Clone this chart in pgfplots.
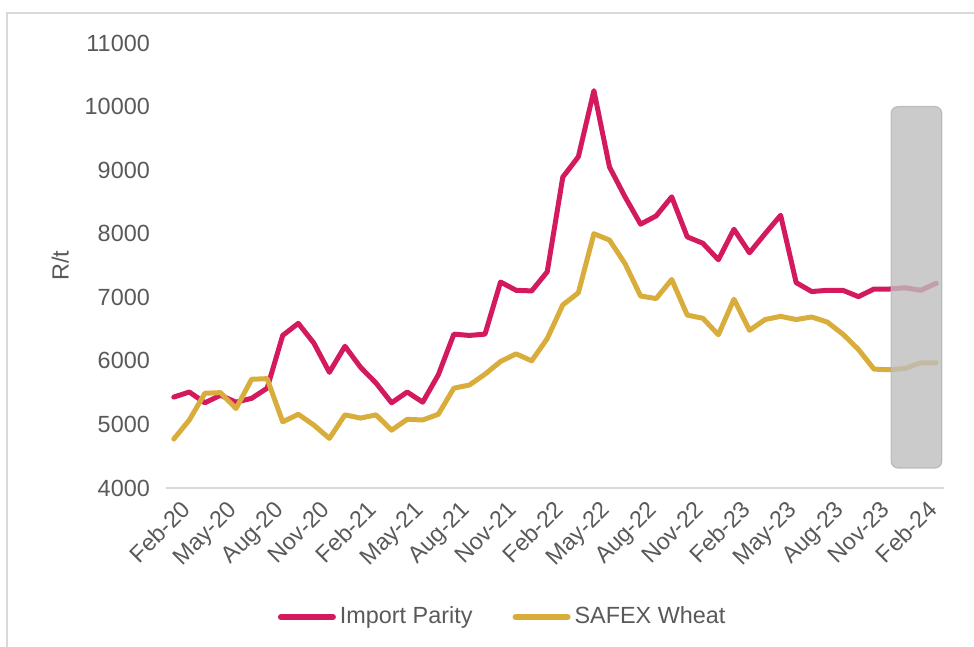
\documentclass[border=0pt]{standalone}
\usepackage{pgfplots}
\pgfplotsset{compat=1.18}
\usepackage{pgfplotstable}
\usepackage{fontspec}
\setmainfont{Liberation Sans}
\definecolor{parity}{HTML}{D31A5E}
\definecolor{safex}{HTML}{D9AD3B}
\definecolor{txt}{HTML}{595959}
\definecolor{axisgray}{HTML}{D9D9D9}

\pgfplotstableread{
idx import
0 5430
1 5510
2 5340
3 5460
4 5350
5 5410
6 5570
7 6400
8 6590
9 6280
10 5820
11 6230
12 5900
13 5650
14 5340
15 5510
16 5350
17 5780
18 6420
19 6400
20 6420
21 7240
22 7110
23 7100
24 7400
25 8890
26 9210
27 10250
28 9050
29 8580
30 8150
31 8280
32 8580
33 7950
34 7850
35 7590
36 8070
37 7700
38 8000
39 8290
40 7230
41 7090
42 7110
43 7110
44 7010
45 7130
46 7130
47 7150
48 7110
49 7220
}\importdata

\pgfplotstableread{
idx safex
0 4770
1 5070
2 5490
3 5500
4 5250
5 5710
6 5720
7 5040
8 5160
9 4990
10 4780
11 5150
12 5100
13 5150
14 4910
15 5080
16 5070
17 5160
18 5570
19 5620
20 5790
21 5990
22 6110
23 6000
24 6350
25 6880
26 7070
27 8000
28 7900
29 7530
30 7020
31 6980
32 7280
33 6720
34 6670
35 6410
36 6970
37 6480
38 6650
39 6700
40 6650
41 6690
42 6610
43 6420
44 6180
45 5870
46 5860
47 5880
48 5970
49 5970
}\safexdata

\begin{document}
\fontsize{11.7}{14}\selectfont
\begin{tikzpicture}
\useasboundingbox (0,0) rectangle (487pt,323.5pt);
% outer chart frame
\draw[axisgray, line width=0.8pt] (3.5pt,0pt) -- (3.5pt,317pt) -- (487pt,317pt);
\begin{axis}[
    at={(83pt,79.5pt)}, anchor=south west,
    scale only axis,
    width=389pt, height=222.5pt,
    xmin=-0.5, xmax=49.5,
    ymin=4000, ymax=11000,
    ytick={4000,5000,...,11000},
    scaled y ticks=false,
    /pgf/number format/1000 sep={},
    /pgf/number format/assume math mode=true,
    yticklabel style={text=txt, font=\fontsize{11.7}{14}\selectfont, xshift=-4pt},
    xtick={0,3,...,48},
    xticklabels={Feb-20,May-20,Aug-20,Nov-20,Feb-21,May-21,Aug-21,Nov-21,Feb-22,May-22,Aug-22,Nov-22,Feb-23,May-23,Aug-23,Nov-23,Feb-24},
    xticklabel style={rotate=45, anchor=north east, text=txt, font=\fontsize{11.7}{14}\selectfont, xshift=2pt, yshift=-2pt},
    major tick length=0pt,
    axis line style={draw=none},
    axis x line*=bottom,
    axis y line*=left,
    ylabel={R/t},
    ylabel style={at={(axis description cs:-0.136,0.5)}, anchor=center, text=txt, font=\fontsize{11.7}{14}\selectfont},
    legend columns=2,
    legend style={at={(axis description cs:0.434,-0.29)}, anchor=center, draw=none, fill=none,
        text=txt, font=\fontsize{11.7}{14}\selectfont,
        /tikz/every even column/.append style={column sep=18pt}},
    legend image code/.code={\draw[#1, line width=3pt, line cap=round] (0pt,0pt) -- (26pt,0pt);},
    clip=false,
]
\draw[axisgray, line width=0.8pt] (axis cs:-0.5,4000) -- (axis cs:49.5,4000);
\addplot[parity, line width=2.5pt, line join=round, line cap=round] table[x=idx, y=import] {\importdata};
\addlegendentry{Import Parity}
\addplot[safex, line width=2.5pt, line join=round, line cap=round] table[x=idx, y=safex] {\safexdata};
\addlegendentry{SAFEX Wheat}
\fill[fill={rgb,255:red,190;green,190;blue,190}, fill opacity=0.8, draw={rgb,255:red,180;green,180;blue,180}, draw opacity=0.8, line width=0.6pt, rounded corners=3.5pt]
  (axis cs:46.1,4314) rectangle (axis cs:49.36,10000);
\end{axis}
\end{tikzpicture}
\end{document}
